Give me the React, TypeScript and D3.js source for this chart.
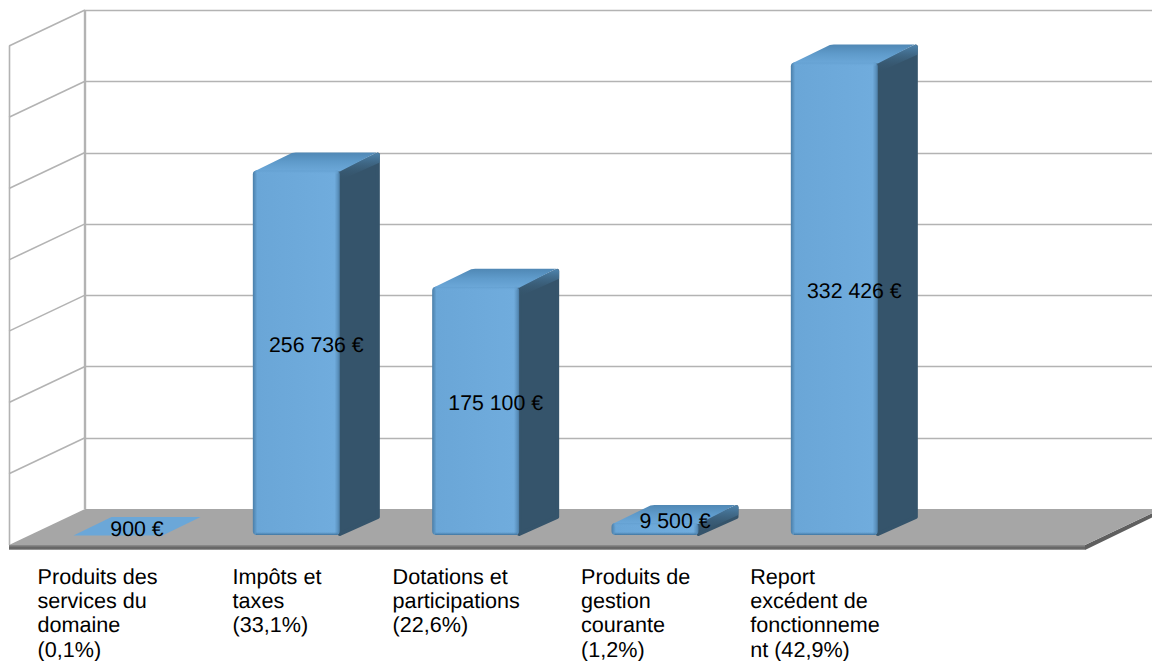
import React, { useEffect, useRef } from "react";
import * as d3 from "d3";

const categoryLines = [
  ["Produits des", "services du", "domaine", "(0,1%)"],
  ["Impôts et", "taxes", "(33,1%)"],
  ["Dotations et", "participations", "(22,6%)"],
  ["Produits de", "gestion", "courante", "(1,2%)"],
  ["Report", "excédent de", "fonctionneme", "nt (42,9%)"],
];
const categoryKeys = ["domaine", "impots", "dotations", "gestion", "report", "vide"];
const values = [900, 256736, 175100, 9500, 332426];
const valueLabels = ["900 €", "256 736 €", "175 100 €", "9 500 €", "332 426 €"];
const gridTicks = [0, 50000, 100000, 150000, 200000, 250000, 300000, 350000];

const WIDTH = 1152;
const HEIGHT = 661;
const GRID = "#b3b3b3";

const App = () => {
  const ref = useRef<SVGSVGElement>(null);

  useEffect(() => {
    const svg = d3.select(ref.current);
    svg.selectAll("*").remove();

    const floorFrontY = 545;
    const floorBackY = 509;
    const floorLeft = 9;
    const floorRight = 1085;
    const depthX = 76;
    const depthY = 36;
    const barWidth = 87;
    const barDepthX = 40;
    const barDepthY = 18;
    const barBase = 535;
    const barShift = 64.5;
    const bevel = 1.5;

    const x = d3.scaleBand<string>().domain(categoryKeys).range([floorLeft, floorRight]);
    const y = d3.scaleLinear().domain([0, 350000]).range([floorBackY, 10]);
    const h = (v: number) => Math.max(0, floorBackY - y(v) - bevel);

    const defs = svg.append("defs");
    const grad = (id: string, vertical: boolean, stops: [number, string, number?][]) => {
      const g = defs.append("linearGradient").attr("id", id)
        .attr("x1", 0).attr("y1", 0)
        .attr("x2", vertical ? 0 : 1).attr("y2", vertical ? 1 : 0);
      stops.forEach(([o, c, a]) => g.append("stop").attr("offset", o).attr("stop-color", c).attr("stop-opacity", a ?? 1));
    };
    grad("front", false, [[0, "#4a7ea8"], [0.05, "#6aa6d7"], [0.94, "#70acdd"], [0.98, "#5a90bc"], [1, "#4a7ba3"]]);
    grad("bottomEdge", true, [[0, "#4a80ac", 0], [1, "#3f749f", 1]]);
    grad("topEdge", true, [[0, "#639fd0", 1], [1, "#70acdd", 0]]);
    grad("top", true, [[0, "#5088b5"], [0.5, "#5f9bcb"], [1, "#6ca8d9"]]);
    grad("sideBevel", true, [[0, "#4f86b0", 1], [1, "#35546b", 0]]);
    grad("floorEdge", true, [[0, "#8f8f8f"], [0.6, "#5f5f5f"], [0.85, "#777"], [1, "#cfcfcf"]]);

    // side wall and back wall
    const walls = svg.append("g").attr("fill", "none").attr("stroke", GRID).attr("stroke-width", 1.6);
    walls.selectAll("line.back").data(gridTicks.slice(1)).enter().append("line")
      .attr("x1", floorLeft + depthX).attr("x2", WIDTH)
      .attr("y1", d => Math.round(y(d)) + 0.5).attr("y2", d => Math.round(y(d)) + 0.5);
    walls.selectAll("line.side").data(gridTicks.slice(1)).enter().append("line")
      .attr("x1", floorLeft + depthX).attr("x2", floorLeft)
      .attr("y1", d => y(d)).attr("y2", d => y(d) + depthY);
    walls.append("line").attr("x1", floorLeft + 0.5).attr("x2", floorLeft + 0.5)
      .attr("y1", y(350000) + depthY).attr("y2", floorFrontY);
    walls.append("line").attr("x1", floorLeft + depthX).attr("x2", floorLeft + depthX)
      .attr("y1", y(350000)).attr("y2", floorBackY).attr("stroke-width", 2.4);

    // floor
    const line = d3.line();
    svg.append("path")
      .attr("d", line([[floorRight, floorFrontY], [floorRight + depthX, floorFrontY - depthY], [floorRight + depthX, floorFrontY - depthY + 4], [floorRight, floorFrontY + 5]]) + "Z")
      .attr("fill", "#5f5f5f");
    svg.append("path")
      .attr("d", line([[floorLeft, floorFrontY], [floorLeft + depthX, floorBackY], [floorRight + depthX, floorBackY], [floorRight, floorFrontY]]) + "Z")
      .attr("fill", "#a6a6a6");
    svg.append("rect").attr("x", floorLeft).attr("y", floorFrontY).attr("width", floorRight - floorLeft).attr("height", 5)
      .attr("fill", "url(#floorEdge)");

    // bars
    values.forEach((v, i) => {
      const left = x(categoryKeys[i])! + barShift;
      const right = left + barWidth;
      const bh = h(v);
      const top = barBase - bh;
      const g = svg.append("g");
      const r = Math.min(4, bh / 2);
      const tall = bh > 5;

      if (tall) {
        // rounded far edge: path inset by 2 with a round-joined stroke of 4
        g.append("path")
          .attr("d", line([[right, barBase - 1], [right + barDepthX - 2, barBase - barDepthY], [right + barDepthX - 2, top - barDepthY + 2], [right, top + 2]]) + "Z")
          .attr("fill", "#35546b").attr("stroke", "#35546b").attr("stroke-width", 4).attr("stroke-linejoin", "round");
        const bevelH = Math.min(10, bh);
        g.append("path")
          .attr("d", line([[right, top], [right + barDepthX - 2, top - barDepthY], [right + barDepthX, top - barDepthY + 2], [right + barDepthX, top - barDepthY + bevelH], [right, top + bevelH]]) + "Z")
          .attr("fill", "url(#sideBevel)");
        g.append("path")
          .attr("d", line([[left + 1, top + 1], [left + barDepthX - 1, top - barDepthY + 0.5], [left + barDepthX + 3, top - barDepthY], [right + barDepthX - 3, top - barDepthY], [right, top + 1]]) + "Z")
          .attr("fill", "url(#top)");
        g.append("rect").attr("x", left).attr("y", top).attr("width", barWidth).attr("height", bh)
          .attr("rx", r).attr("fill", "url(#front)");
        g.append("rect").attr("x", left + 3).attr("y", barBase - 3).attr("width", barWidth - 5).attr("height", 3)
          .attr("fill", "url(#bottomEdge)");
        g.append("rect").attr("x", left + 3).attr("y", top).attr("width", barWidth - 5).attr("height", 4)
          .attr("fill", "url(#topEdge)");
      } else {
        // almost zero value: only the flat top face shows
        g.append("path")
          .attr("d", line([[left, top + 0.5], [left + barDepthX - 2, top - barDepthY], [right + barDepthX, top - barDepthY], [right + 2, top + 0.5]]) + "Z")
          .attr("fill", "#6ba7d8");
      }
    });

    // value labels, on the middle of each bar
    svg.selectAll("text.value").data(values).enter().append("text")
      .attr("class", "value")
      .attr("x", (_, i) => x(categoryKeys[i])! + barShift + barWidth / 2 + barDepthX / 2)
      .attr("y", d => barBase - h(d) / 2 - barDepthY / 2 + (h(d) > 5 ? 8.5 : 9.5))
      .attr("text-anchor", "middle")
      .attr("font-family", "'Liberation Sans'")
      .attr("font-size", 21.3)
      .attr("text-rendering", "geometricPrecision")
      .attr("fill", "#000")
      .text((_, i) => valueLabels[i]);

    // category labels: left aligned block, centred on its band
    categoryLines.forEach((lines, i) => {
      const t = svg.append("text")
        .attr("font-family", "'Liberation Sans'")
        .attr("font-size", 21.6)
        .attr("text-rendering", "geometricPrecision")
        .attr("fill", "#000");
      lines.forEach((l, k) => {
        t.append("tspan").attr("x", 0).attr("y", 584 + k * 24.2).text(l);
      });
      const w = (t.node() as SVGTextElement).getBBox().width;
      const cx = x(categoryKeys[i])! + x.bandwidth() / 2;
      t.selectAll("tspan").attr("x", cx - w / 2 - 1);
    });
  }, []);

  return <svg ref={ref} width={WIDTH} height={HEIGHT} style={{ position: "absolute", left: 0, top: 0, background: "#fff" }} />;
};

export default App;
